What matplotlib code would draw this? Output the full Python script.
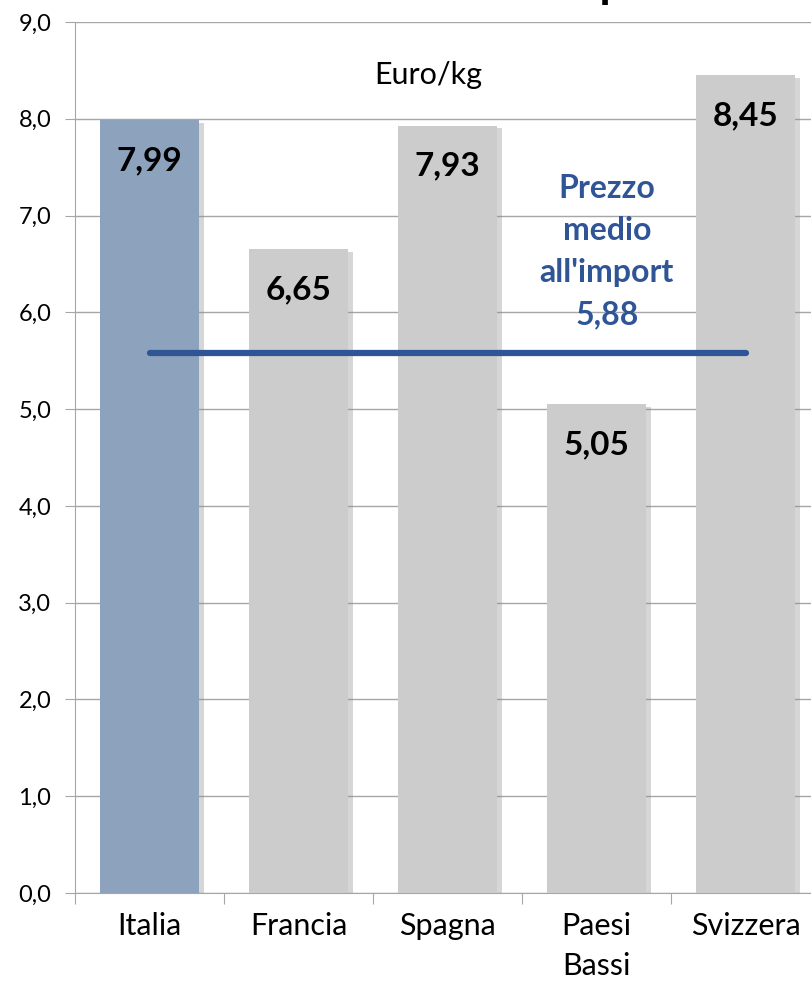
import matplotlib
matplotlib.use("Agg")
import matplotlib.pyplot as plt
import matplotlib.patheffects as pe

# data
countries = ["Italia", "Francia", "Spagna", "Paesi\nBassi", "Svizzera"]
prices = [7.99, 6.65, 7.93, 5.05, 8.45]
price_labels = ["7,99", "6,65", "7,93", "5,05", "8,45"]
avg_level = 5.58          # where the average line sits in the picture
avg_label = "Prezzo\nmedio\nall'import\n5,88"
yticks = [0, 1, 2, 3, 4, 5, 6, 7, 8, 9]

plt.rcParams["font.family"] = ["Lato", "DejaVu Sans"]

fig = plt.figure(figsize=(8.11, 9.83), dpi=100)
ax = fig.add_axes([75 / 811, 1 - 893 / 983, 745 / 811, 871 / 983])

colors = ["#8DA2BC"] + ["#CCCCCC"] * 4
xs = list(range(len(countries)))
bars = ax.bar(xs, prices, width=0.67, color=colors, zorder=3)
for b in bars:
    b.set_path_effects([pe.SimplePatchShadow(offset=(3, -2), shadow_rgbFace="#8c8c8c", alpha=0.35),
                        pe.Normal()])

for x, v, lab in zip(xs, prices, price_labels):
    ax.text(x, v - 0.42, lab, ha="center", va="center", fontsize=24,
            fontweight="bold", color="black", zorder=5)

ax.plot([0, 4], [avg_level, avg_level], color="#2F5597", linewidth=4.5,
        solid_capstyle="round", zorder=4)
ax.text(3.07, 6.63, avg_label, ha="center", va="center", fontsize=23,
        fontweight="bold", color="#2F5597", linespacing=1.55, zorder=5)

ax.text(1.87, 8.45, "Euro/kg", ha="center", va="center", fontsize=22, color="black")

ax.set_xlim(-0.5, 4.5)
ax.set_ylim(0, 9)
ax.set_yticks(yticks)
ax.set_yticklabels([f"{t:.1f}".replace(".", ",") for t in yticks], fontsize=17)
ax.yaxis.grid(True, color="#A6A6A6", linewidth=1, zorder=0)
ax.set_axisbelow(True)

ax.set_xticks([i - 0.5 for i in range(len(countries) + 1)])
ax.set_xticklabels([])
ax.set_xticks(xs, minor=True)
ax.set_xticklabels(countries, minor=True, fontsize=22, linespacing=1.5)
ax.tick_params(axis="x", which="major", length=8, color="#A6A6A6")
ax.tick_params(axis="x", which="minor", length=0, pad=14)
ax.tick_params(axis="y", length=7, color="#A6A6A6", pad=10)

for s in ["top", "right"]:
    ax.spines[s].set_visible(False)
for s in ["left", "bottom"]:
    ax.spines[s].set_color("#A6A6A6")

# title, cut off at the top edge of the picture
fig.text(0.575, 1 + 3 / 983, "Prezzi medi all'import", ha="center", va="baseline",
         fontsize=33, fontweight="bold", color="black")

fig.savefig("out.png", dpi=100)
